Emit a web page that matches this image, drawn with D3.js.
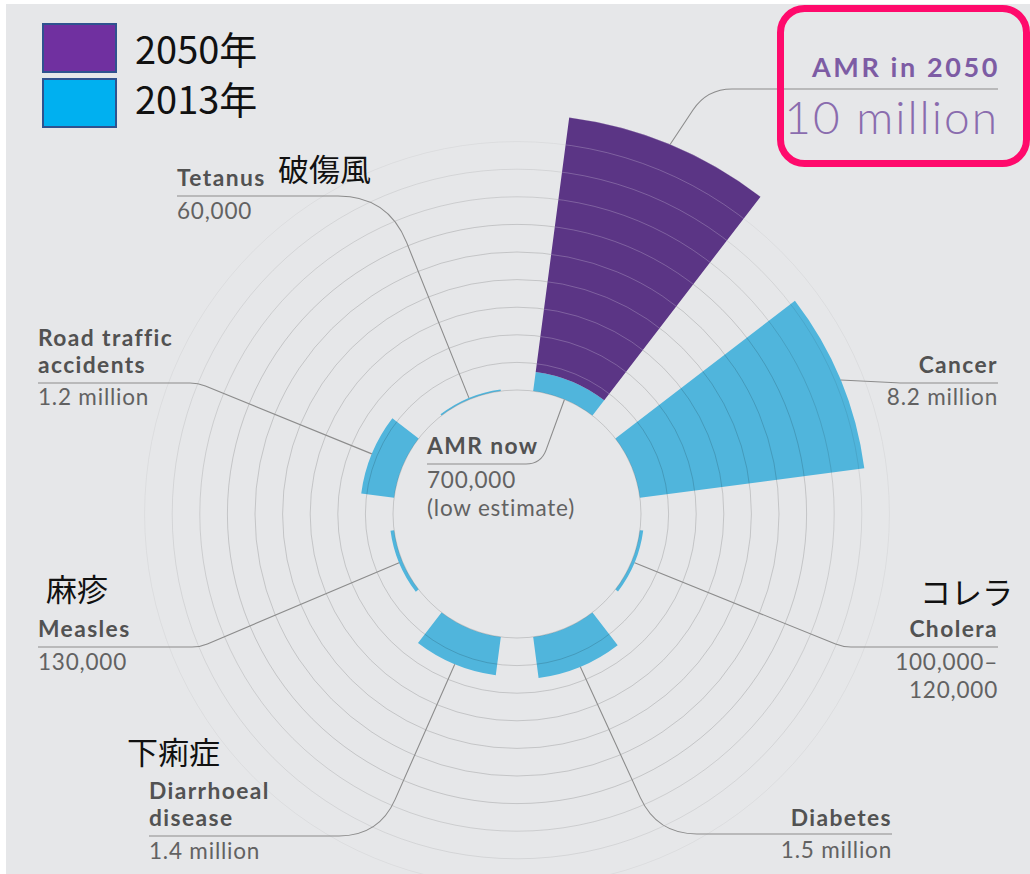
<!DOCTYPE html>
<html>
<head>
<meta charset="utf-8">
<script src="https://cdn.jsdelivr.net/npm/d3@7"></script>
<style>
  body { margin: 0; background: #fff; }
  svg { display: block; }
  .title { font-family: Lato, sans-serif; font-weight: 700; fill: #525252; font-size: 22.8px; letter-spacing: 1.4px; }
  .value { font-family: Lato, sans-serif; fill: #626262; font-size: 22.5px; letter-spacing: 0.8px; }
  .jp { font-family: "Noto Sans CJK JP", sans-serif; font-size: 31px; fill: #111; }
  .leader { fill: none; stroke: #8c8c8c; stroke-width: 1.1; }
</style>
</head>
<body>
<div id="chart"></div>
<script>
  // Deaths per year, millions. Clockwise from the top.
  const categories = ['AMR', 'Cancer', 'Cholera', 'Diabetes', 'Diarrhoeal disease', 'Measles', 'Road traffic accidents', 'Tetanus'];
  const deaths2013 = [0.7, 8.2, 0.12, 1.5, 1.4, 0.13, 1.2, 0.06];
  const deaths2050 = [10, null, null, null, null, null, null, null];
  const titleLines = [['AMR now'], ['Cancer'], ['Cholera'], ['Diabetes'], ['Diarrhoeal', 'disease'], ['Measles'], ['Road traffic', 'accidents'], ['Tetanus']];
  const valueLines = [['700,000', '(low estimate)'], ['8.2 million'], ['100,000–', '120,000'], ['1.5 million'], ['1.4 million'], ['130,000'], ['1.2 million'], ['60,000']];
  const jpNames = [null, null, 'コレラ', null, '下痢症', '麻疹', null, '破傷風'];
  const ringValues = [0, 1, 2, 3, 4, 5, 6, 7, 8, 9];
  const legendLabels = ['2050年', '2013年'];

  const width = 1030;
  const height = 874;
  const cx = 517;
  const cy = 514;

  const colors = {
    bg: '#e6e7e9',
    y2050: '#5b3585',
    y2013: '#50b5dc',
    ring: '#000',
    legend2050: '#7030a0',
    legend2013: '#00b0f0',
    legendStroke: '#2f528f',
    pink: '#ff0a6c',
  };

  // label placement: x, anchor, first title baseline, rule y, first value baseline, elbow x, corner radius
  const layout = {
    'AMR': { x: 427, anchor: 'start', title: 454, rule: 464, value: 488, elbow: 541, corner: 15 },
    'Cancer': { x: 998, anchor: 'end', title: 373, rule: 383, value: 405, elbow: 900, corner: 4 },
    'Cholera': { x: 998, anchor: 'end', title: 637, rule: 647, value: 670, elbow: 843, corner: 8, jp: [1013, 604] },
    'Diabetes': { x: 892, anchor: 'end', title: 826, rule: 834, value: 858, elbow: 657, corner: 40 },
    'Diarrhoeal disease': { x: 149, anchor: 'start', title: 799, rule: 836, value: 859, elbow: 379, corner: 40, jp: [127, 764] },
    'Measles': { x: 38, anchor: 'start', title: 637, rule: 647, value: 670, elbow: 200, corner: 8, jp: [46, 601] },
    'Road traffic accidents': { x: 38, anchor: 'start', title: 346, rule: 383, value: 405, elbow: 198, corner: 8 },
    'Tetanus': { x: 177, anchor: 'start', title: 186, rule: 196, value: 219, elbow: 388, corner: 50, jp: [278, 181] },
  };
  const titleStep = 27.4;
  const valueStep = 27.6;

  const svg = d3.select('#chart').append('svg')
    .attr('width', width)
    .attr('height', height);

  svg.append('rect')
    .attr('x', 6).attr('y', 4)
    .attr('width', width - 6).attr('height', height - 4)
    .attr('fill', colors.bg);

  const angle = d3.scaleBand()
    .domain(categories)
    .range([0, 2 * Math.PI])
    .paddingInner(1 / 3)
    .paddingOuter(1 / 6);

  const radius = d3.scaleLinear()
    .domain([0, 10])
    .range([124, 400]);

  const arc = d3.arc()
    .innerRadius((d) => radius(d.from))
    .outerRadius((d) => radius(d.to))
    .startAngle((d) => angle(d.cat))
    .endAngle((d) => angle(d.cat) + angle.bandwidth());

  const g = svg.append('g').attr('transform', `translate(${cx},${cy})`);

  // 2013 bars
  const bars2013 = categories.map((cat, i) => ({ cat, from: 0, to: deaths2013[i] }));
  g.selectAll('path.b2013')
    .data(bars2013)
    .join('path')
    .attr('class', 'b2013')
    .attr('d', arc)
    .attr('fill', colors.y2013);

  // rings, fading outwards
  const ringOpacity = (v) => (v < 7 ? 0.15 : 0.15 - (v - 6) * 0.035);
  g.selectAll('circle.ring')
    .data(ringValues)
    .join('circle')
    .attr('class', 'ring')
    .attr('r', (v) => radius(v))
    .attr('fill', 'none')
    .attr('stroke', colors.ring)
    .attr('stroke-opacity', ringOpacity)
    .attr('stroke-width', 1);

  // 2050 bars, stacked on top of 2013
  const bars2050 = categories
    .map((cat, i) => ({ cat, from: deaths2013[i], to: deaths2050[i] }))
    .filter((d) => d.to != null);

  svg.append('defs').selectAll('clipPath')
    .data(bars2050)
    .join('clipPath')
    .attr('id', (d, i) => `clip2050-${i}`)
    .append('path')
    .attr('d', arc);

  g.selectAll('path.b2050')
    .data(bars2050)
    .join('path')
    .attr('class', 'b2050')
    .attr('d', arc)
    .attr('fill', colors.y2050);

  bars2050.forEach((d, i) => {
    g.append('g')
      .attr('clip-path', `url(#clip2050-${i})`)
      .selectAll('circle')
      .data(ringValues.concat([10]))
      .join('circle')
      .attr('r', (v) => radius(v))
      .attr('fill', 'none')
      .attr('stroke', '#fff')
      .attr('stroke-opacity', 0.22);
  });

  // leader lines
  function polar(cat, value) {
    const a = angle(cat) + angle.bandwidth() / 2;
    const r = radius(value);
    return [cx + r * Math.sin(a), cy - r * Math.cos(a)];
  }

  function leader(ax, ay, ex, tx, ty, c) {
    const dirA = Math.sign(ax - ex);
    const p1 = [ex + dirA * c, ay];
    const len = Math.hypot(tx - ex, ty - ay);
    const p2 = [ex + ((tx - ex) / len) * c, ay + ((ty - ay) / len) * c];
    return `M${ax},${ay}L${p1[0]},${p1[1]}Q${ex},${ay} ${p2[0]},${p2[1]}L${tx},${ty}`;
  }

  function multiline(cls, x, y, anchor, lines, step) {
    const t = svg.append('text')
      .attr('class', cls)
      .attr('x', x)
      .attr('y', y)
      .attr('text-anchor', anchor);
    lines.forEach((s, j) => {
      t.append('tspan')
        .attr('x', x)
        .attr('dy', j === 0 ? 0 : step)
        .text(s);
    });
    return t;
  }

  categories.forEach((cat, i) => {
    const L = layout[cat];
    const target = cat === 'AMR' ? polar(cat, 0) : polar(cat, deaths2013[i]);
    svg.append('path')
      .attr('class', 'leader')
      .attr('d', leader(L.x, L.rule, L.elbow, target[0], target[1], L.corner));

    multiline('title', L.x, L.title, L.anchor, titleLines[i], titleStep);
    multiline('value', L.x, L.value, L.anchor, valueLines[i], valueStep);

    if (jpNames[i]) {
      svg.append('text')
        .attr('class', 'jp')
        .attr('x', L.jp[0])
        .attr('y', L.jp[1])
        .attr('text-anchor', L.anchor)
        .text(jpNames[i]);
    }
  });

  // AMR in 2050 callout
  const amrTop = polar('AMR', deaths2050[0]);
  svg.append('path')
    .attr('class', 'leader')
    .attr('d', leader(998, 89, 707, amrTop[0], amrTop[1], 25));

  svg.append('text')
    .attr('class', 'title')
    .attr('x', 1000).attr('y', 77)
    .attr('text-anchor', 'end')
    .style('font-size', '27px')
    .style('letter-spacing', '2.6px')
    .style('fill', '#7d5ca4')
    .text('AMR in 2050');

  svg.append('text')
    .attr('class', 'value')
    .attr('x', 999).attr('y', 134)
    .attr('text-anchor', 'end')
    .style('font-size', '46px')
    .style('font-weight', 300)
    .style('letter-spacing', '2px')
    .style('fill', '#8a6cae')
    .text(`${deaths2050[0]} million`);

  svg.append('rect')
    .attr('x', 780.5).attr('y', 8.5)
    .attr('width', 246).attr('height', 155)
    .attr('rx', 24)
    .attr('fill', 'none')
    .attr('stroke', colors.pink)
    .attr('stroke-width', 7);

  // legend
  const legend = svg.append('g');
  [colors.legend2050, colors.legend2013].forEach((c, i) => {
    legend.append('rect')
      .attr('x', 43).attr('y', 24 + i * 55)
      .attr('width', 73).attr('height', 48)
      .attr('fill', c)
      .attr('stroke', colors.legendStroke)
      .attr('stroke-width', 2);
    legend.append('text')
      .attr('class', 'jp')
      .attr('x', 135).attr('y', 64 + i * 50)
      .style('font-size', '38px')
      .text(legendLabels[i]);
  });
</script>
</body>
</html>
